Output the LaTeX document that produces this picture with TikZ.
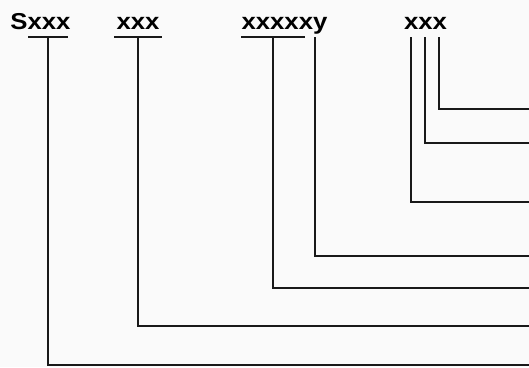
\documentclass[tikz,border=0pt]{standalone}
\usepackage{fontspec}
\setmainfont{Liberation Sans}[FakeStretch=1.12]
\begin{document}
\begin{tikzpicture}[x=1pt,y=-1pt,
  lbl/.style={font=\bfseries\fontsize{23}{25}\selectfont, inner sep=0pt, anchor=base},
  ln/.style={line width=2.2pt, line join=miter, line cap=butt, black!90}]
\fill[white!96!gray] (0,0) rectangle (529,367);
\useasboundingbox (0,0) rectangle (529,367);
% labels
\node[lbl] (t1) at (40.5,29) {Sxxx};
\node[lbl] (t2) at (138,29) {xxx};
\node[lbl] (t3) at (284.5,29) {xxxxxy};
\node[lbl] (t4) at (425.5,29) {xxx};
% underlines
\coordinate (u1a) at (28,37); \coordinate (u1b) at (68,37);
\coordinate (u2a) at (114,37); \coordinate (u2b) at (162,37);
\coordinate (u3a) at (241,37); \coordinate (u3b) at (305,37);
\draw[ln] (u1a) -- (u1b);
\draw[ln] (u2a) -- (u2b);
\draw[ln] (u3a) -- (u3b);
% top starts
\coordinate (s1) at (48,37);
\coordinate (s2) at (138,37);
\coordinate (s3) at (273,37);
\coordinate (s4) at (315,37);
\coordinate (s5) at (411,37);
\coordinate (s6) at (425,37);
\coordinate (s7) at (439,37);
% right ends
\coordinate (e1) at (529,365);
\coordinate (e2) at (529,326);
\coordinate (e3) at (529,288);
\coordinate (e4) at (529,256);
\coordinate (e5) at (529,202);
\coordinate (e6) at (529,143);
\coordinate (e7) at (529,109);
\draw[ln] (s1) |- (e1);
\draw[ln] (s2) |- (e2);
\draw[ln] (s3) |- (e3);
\draw[ln] (s4) |- (e4);
\draw[ln] (s5) |- (e5);
\draw[ln] (s6) |- (e6);
\draw[ln] (s7) |- (e7);
\end{tikzpicture}
\end{document}
